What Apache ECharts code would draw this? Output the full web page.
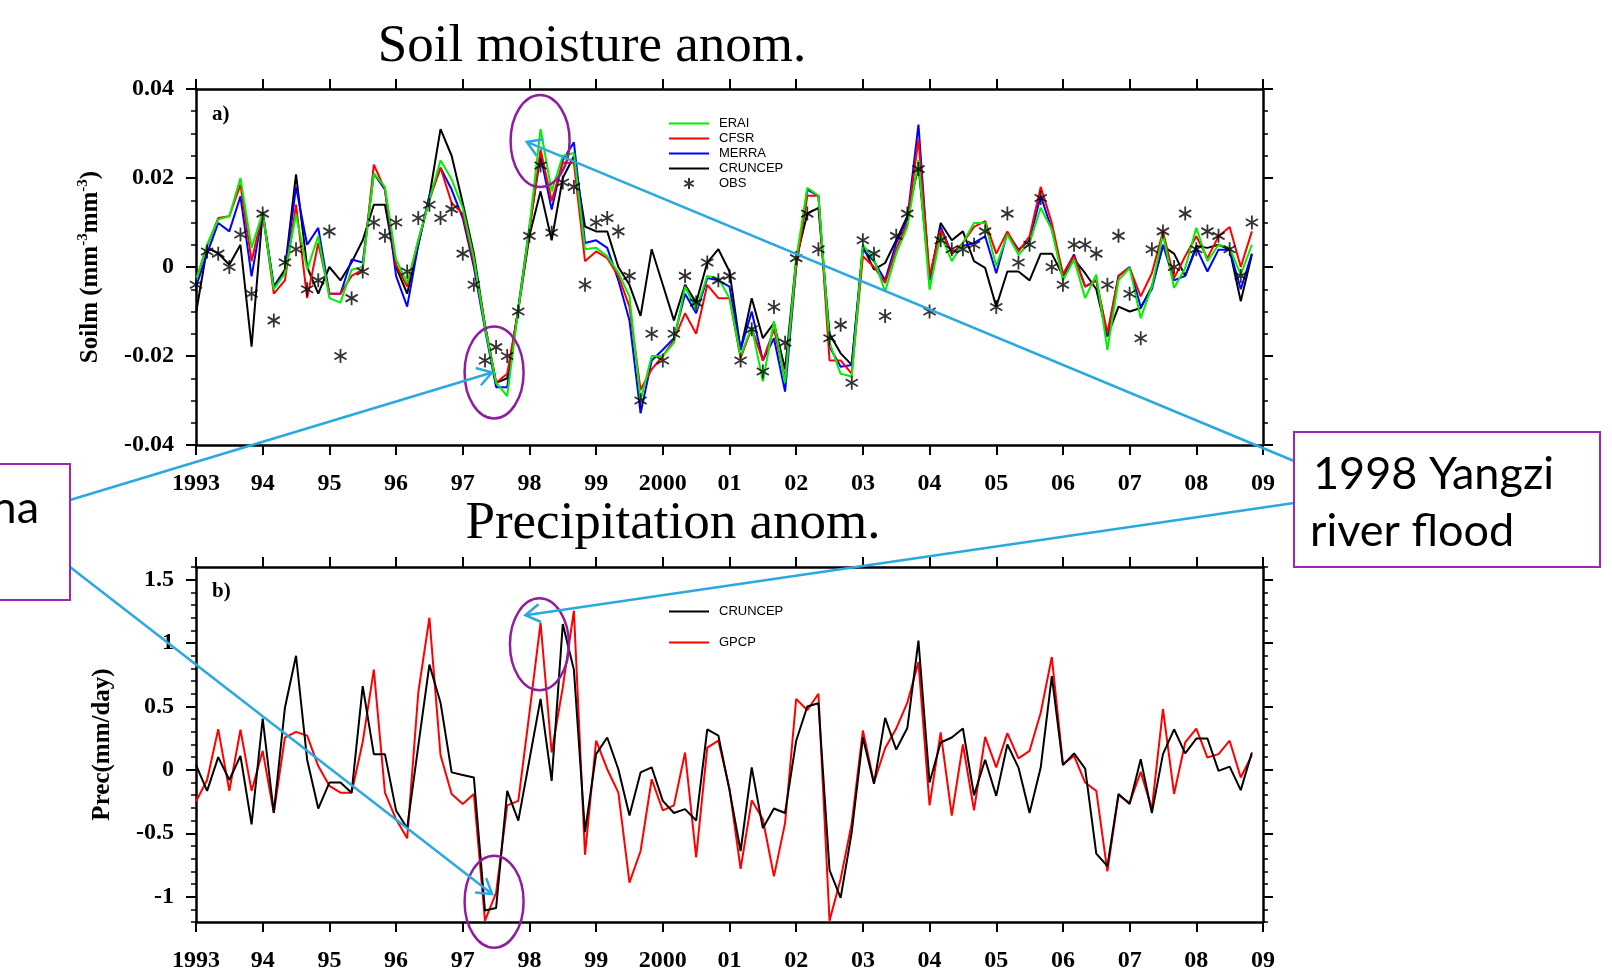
<!DOCTYPE html>
<html><head><meta charset="utf-8">
<script src="https://cdn.jsdelivr.net/npm/echarts@6/dist/echarts.min.js"></script>
<style>html,body{margin:0;padding:0;background:#fff}#c{width:1612px;height:968px}</style>
</head><body><div id="c"></div>
<script>
// ---- data (bi-monthly anomalies, 1993.0 .. 2008.83) ----
const startYear = 1993, stepsPerYear = 6;
const xTickYears = [1993,1994,1995,1996,1997,1998,1999,2000,2001,2002,2003,2004,2005,2006,2007,2008,2009];

const soilERAI = [-0.003,0.005,0.0107,0.0114,0.020,0.0043,0.0122,-0.005,-0.0014,0.0118,
-0.0006,0.0069,-0.007,-0.008,-0.0006,0.0,0.021,0.018,0.0017,-0.0036,
0.006,0.015,0.024,0.0197,0.0133,0.002,-0.0135,-0.026,-0.029,-0.0096,
0.009,0.031,0.017,0.025,0.0256,0.004,0.0043,0.0024,-0.0013,-0.0066,
-0.030,-0.020,-0.020,-0.017,-0.0044,-0.0096,-0.002,-0.0025,-0.007,-0.020,
-0.0134,-0.0257,-0.0122,-0.026,0.0017,0.0178,0.016,-0.017,-0.024,-0.0246,
0.005,0.0017,-0.0055,0.003,0.009,0.024,-0.0051,0.0073,0.0013,0.0054,
0.0099,0.0099,0.0002,0.0073,0.0028,0.0054,0.0133,0.0084,-0.003,0.0017,
-0.007,-0.0017,-0.0186,-0.003,-0.0002,-0.0115,-0.0044,0.0073,-0.0047,-0.0002,
0.0088,0.0013,0.005,0.0043,-0.0017,0.005];

const soilCFSR = [-0.003,0.0047,0.011,0.0114,0.0185,0.0013,0.0122,-0.006,-0.003,0.014,
-0.007,0.0054,-0.006,-0.006,-0.002,-0.0006,0.023,0.0174,0.0005,-0.0044,
0.006,0.015,0.0223,0.0144,0.012,0.001,-0.013,-0.026,-0.024,-0.0096,
0.008,0.0264,0.0148,0.0234,0.0234,0.0013,0.0035,0.002,-0.002,-0.0089,
-0.0276,-0.023,-0.020,-0.0164,-0.0104,-0.015,-0.004,-0.007,-0.007,-0.0205,
-0.0137,-0.021,-0.014,-0.025,0.0,0.016,0.016,-0.021,-0.021,-0.024,
0.0024,0.0,-0.0036,0.004,0.0099,0.0287,-0.002,0.0084,0.003,0.0054,
0.009,0.0103,0.003,0.008,0.0035,0.0069,0.018,0.0099,-0.0017,0.0024,
-0.0044,-0.003,-0.0149,-0.002,-0.0002,-0.0066,-0.0014,0.008,-0.0025,0.0024,
0.0069,0.002,0.0069,0.009,0.0,0.008];

const soilMERRA = [-0.0044,0.003,0.0099,0.008,0.0159,-0.0021,0.0122,-0.0044,-0.0014,0.018,
0.005,0.0088,-0.006,-0.006,0.0017,0.001,0.021,0.0174,-0.002,-0.0089,
0.005,0.016,0.0223,0.0174,0.011,0.0,-0.014,-0.027,-0.027,-0.009,
0.009,0.025,0.0129,0.024,0.028,0.0054,0.006,0.0043,-0.003,-0.012,
-0.0329,-0.021,-0.0186,-0.016,-0.006,-0.0104,-0.0025,-0.003,-0.0044,-0.0186,
-0.010,-0.021,-0.016,-0.028,0.0,0.0174,0.016,-0.0179,-0.0224,-0.022,
0.0039,0.0013,-0.003,0.0054,0.0107,0.032,-0.003,0.009,0.003,0.0047,
0.0054,0.0069,-0.0014,0.0077,0.0039,0.006,0.016,0.0084,-0.0017,0.0028,
-0.0044,-0.003,-0.0156,-0.002,0.0,-0.009,-0.005,0.005,-0.003,-0.002,
0.0043,-0.001,0.0039,0.0039,-0.005,0.003];

const soilCRUNCEP = [-0.0104,0.0043,0.0031,0.0005,0.005,-0.0179,0.0122,-0.0044,-0.0006,0.0208,
0.0,-0.006,0.0,-0.003,0.001,0.006,0.014,0.014,0.0,-0.006,
0.005,0.0159,0.031,0.025,0.0144,0.003,-0.013,-0.026,-0.025,-0.0096,
0.007,0.017,0.006,0.020,0.0249,0.0091,0.008,0.008,0.0,-0.004,
-0.011,0.004,-0.004,-0.012,-0.004,-0.008,0.001,0.004,-0.001,-0.0186,
-0.007,-0.016,-0.0126,-0.023,0.0017,0.012,0.0133,-0.015,-0.0194,-0.022,
0.0047,-0.0006,0.0009,0.006,0.0114,0.0227,-0.003,0.0099,0.006,0.008,
0.0013,-0.0002,-0.0089,-0.001,-0.001,-0.003,0.003,0.003,-0.002,0.0017,
-0.0014,-0.005,-0.0156,-0.0089,-0.010,-0.0092,-0.0044,0.0047,0.003,-0.002,
0.0047,0.0043,0.005,0.0039,-0.0077,0.0028];

const soilOBS = [-0.004,0.0035,0.003,0.0,0.0073,-0.006,0.012,-0.012,0.001,0.004,
-0.005,-0.003,0.008,-0.020,-0.007,-0.001,0.010,0.007,0.010,-0.001,
0.011,0.014,0.011,0.013,0.003,-0.004,-0.021,-0.018,-0.020,-0.010,
0.007,0.0228,0.0077,0.019,0.018,-0.004,0.010,0.011,0.008,-0.002,
-0.030,-0.015,-0.021,-0.015,-0.002,-0.008,0.001,-0.003,-0.002,-0.021,
-0.014,-0.0235,-0.009,-0.017,0.002,0.012,0.004,-0.016,-0.013,-0.026,
0.006,0.003,-0.011,0.007,0.012,0.022,-0.010,0.006,0.004,0.004,
0.005,0.008,-0.009,0.012,0.001,0.005,0.0155,0.0,-0.004,0.005,
0.005,0.003,-0.004,0.007,-0.006,-0.016,0.004,0.008,0.0,0.012,
0.004,0.008,0.007,0.004,-0.002,0.010];

const precGPCP = [-0.25,-0.08,0.32,-0.166,0.316,-0.166,0.15,-0.34,0.255,0.30,
0.27,0.03,-0.126,-0.18,-0.18,0.22,0.79,-0.18,-0.39,-0.54,
0.61,1.20,0.116,-0.19,-0.27,-0.19,-1.19,-0.97,-0.28,-0.245,
0.45,1.16,0.137,0.65,1.255,-0.67,0.23,0.005,-0.18,-0.89,
-0.64,-0.074,-0.32,-0.28,0.137,-0.69,0.176,0.23,-0.15,-0.78,
-0.24,-0.39,-0.84,-0.42,0.56,0.47,0.60,-1.19,-0.86,-0.42,
0.31,-0.10,0.17,0.326,0.53,0.85,-0.28,0.295,-0.36,0.20,
-0.32,0.26,0.02,0.29,0.09,0.15,0.45,0.89,0.045,0.11,
-0.10,-0.166,-0.80,-0.2,-0.26,-0.016,-0.31,0.48,-0.19,0.216,
0.326,0.097,0.124,0.23,-0.06,0.116];

const precCRUNCEP = [0.04,-0.166,0.10,-0.08,0.11,-0.43,0.405,-0.34,0.49,0.90,
0.08,-0.305,-0.10,-0.10,-0.18,0.66,0.124,0.124,-0.32,-0.46,
0.19,0.83,0.53,-0.02,-0.04,-0.06,-1.11,-1.09,-0.166,-0.40,
0.08,0.56,-0.087,1.15,0.79,-0.49,0.124,0.255,0.005,-0.36,
-0.02,0.02,-0.245,-0.34,-0.31,-0.40,0.32,0.27,-0.16,-0.64,
0.02,-0.46,-0.305,-0.34,0.23,0.50,0.526,-0.79,-1.01,-0.49,
0.255,-0.11,0.41,0.16,0.33,1.02,-0.10,0.216,0.255,0.326,
-0.2,0.08,-0.205,0.20,0.018,-0.34,0.018,0.74,0.037,0.13,
0.01,-0.66,-0.76,-0.19,-0.27,0.084,-0.34,0.124,0.32,0.13,
0.247,0.247,-0.008,0.026,-0.16,0.137];

const soilTicks = [-0.04,-0.02,0,0.02,0.04];
const precMajorTicks = [-1,-0.5,0,0.5,1,1.5];

// ---- build ----
const pair = arr => arr.map((v, i) => [startYear + i / stepsPerYear, v]);
const SERIF = "'Liberation Serif','Times New Roman',serif";
const SANS = "'Liberation Sans',Arial,sans-serif";
const chart = echarts.init(document.getElementById('c'), null, {renderer:'canvas', width:1612, height:968});

const xLabel = v => { const y = Math.round(v); return (y === 1993 || y === 2000) ? String(y) : String(y % 100).padStart(2, '0'); };
const axisLine = {onZero:false, lineStyle:{color:'#000', width:2.5}};
const majorTick = {length:10, lineStyle:{color:'#000', width:2}};
const lblStyle = {color:'#000', fontFamily:SERIF, fontWeight:'bold', fontSize:24};

const xBase = {type:'value', min:xTickYears[0], max:xTickYears[xTickYears.length-1], interval:1,
  axisLine, axisTick:majorTick, splitLine:{show:false}};
const xAxis = [
  Object.assign({}, xBase, {gridIndex:0, position:'bottom', axisLabel:Object.assign({formatter:xLabel, margin:27}, lblStyle)}),
  Object.assign({}, xBase, {gridIndex:0, position:'top', axisLabel:{show:false}}),
  Object.assign({}, xBase, {gridIndex:1, position:'bottom', axisLabel:Object.assign({formatter:xLabel, margin:27}, lblStyle)}),
  Object.assign({}, xBase, {gridIndex:1, position:'top', axisLabel:{show:false}})
];

const soilY = {type:'value', gridIndex:0, min:soilTicks[0], max:soilTicks[soilTicks.length-1], interval:0.02,
  axisLine, axisTick:majorTick, splitLine:{show:false},
  minorTick:{show:true, splitNumber:4, length:5, lineStyle:{color:'#000', width:1.5}}, minorSplitLine:{show:false}};
const precMinor = {type:'value', gridIndex:1, min:-1.2, max:1.6, interval:0.1,
  axisLine, axisTick:{length:5, lineStyle:{color:'#000', width:1.5}}, splitLine:{show:false}};
const precMajor = {type:'value', gridIndex:1, min:-1.2, max:1.6,
  axisLine:{show:false, onZero:false}, axisLabel:{show:false}, splitLine:{show:false},
  axisTick:{length:10, lineStyle:{color:'#000', width:2}, customValues:precMajorTicks}};
const precFmt = v => { const r = Math.round(v * 2) / 2; return Math.abs(v - r) < 1e-6 && precMajorTicks.indexOf(r) >= 0 ? String(r === 0 ? 0 : r) : ''; };

const yAxis = [
  Object.assign({}, soilY, {position:'left', axisLabel:Object.assign({margin:22}, lblStyle),
    name:'{a|Soilm (mm}{s|-3}{a|mm}{s|-3}{a|)}', nameLocation:'middle', nameRotate:90, nameGap:90,
    nameTextStyle:{rich:{
      a:{fontFamily:SERIF, fontWeight:'bold', fontSize:25, color:'#000', lineHeight:30},
      s:{fontFamily:SERIF, fontWeight:'bold', fontSize:15, color:'#000', lineHeight:15, verticalAlign:'top'}}}}),
  Object.assign({}, soilY, {position:'right', axisLabel:{show:false}}),
  Object.assign({}, precMinor, {position:'left', axisLabel:Object.assign({margin:22, formatter:precFmt}, lblStyle),
    name:'Prec(mm/day)', nameLocation:'middle', nameRotate:90, nameGap:81,
    nameTextStyle:{fontFamily:SERIF, fontWeight:'bold', fontSize:25, color:'#000'}}),
  Object.assign({}, precMajor, {position:'left'}),
  Object.assign({}, precMinor, {position:'right', axisLabel:{show:false}}),
  Object.assign({}, precMajor, {position:'right'})
];

const lineS = (name, data, color, xi, yi, z) => ({name, type:'line', data:pair(data), xAxisIndex:xi, yAxisIndex:yi,
  symbol:'none', showSymbol:false, lineStyle:{color, width:2}, itemStyle:{color}, z, animation:false});

const starPath = 'path://M0,-10 L0,10 M-8.66,-5 L8.66,5 M-8.66,5 L8.66,-5';
const lineItem = name => ({name, itemStyle:{opacity:0}});

const option = {
  backgroundColor:'#fff',
  animation:false,
  grid:[
    {left:196, top:89, width:1067, height:356, outerBoundsMode:'none'},
    {left:196, top:567, width:1067, height:355, outerBoundsMode:'none'}
  ],
  xAxis, yAxis,
  legend:[
    {orient:'vertical', left:668, top:117, padding:0, itemWidth:40, itemHeight:11, itemGap:2, selectedMode:false,
     data:[lineItem('ERAI'), lineItem('CFSR'), lineItem('MERRA'), lineItem('CRUNCEP'), 'OBS'],
     textStyle:{fontFamily:SANS, fontSize:13, color:'#000', padding:[0,0,0,5]}},
    {orient:'vertical', left:668, top:605, padding:0, itemWidth:40, itemHeight:14, itemGap:18, selectedMode:false,
     data:[lineItem('CRUNCEP'), lineItem('GPCP')],
     textStyle:{fontFamily:SANS, fontSize:13, color:'#000', padding:[0,0,0,5]}}
  ],
  series:[
    lineS('CRUNCEP', soilCRUNCEP, '#000000', 0, 0, 2),
    lineS('MERRA', soilMERRA, '#0000ff', 0, 0, 3),
    lineS('CFSR', soilCFSR, '#ff0000', 0, 0, 4),
    lineS('ERAI', soilERAI, '#00f000', 0, 0, 5),
    {name:'OBS', type:'scatter', data:pair(soilOBS), xAxisIndex:0, yAxisIndex:0, symbol:starPath, symbolSize:14,
     symbolKeepAspect:true, itemStyle:{color:'#000', borderColor:'#000', borderWidth:1.8}, z:6, animation:false},
    lineS('GPCP', precGPCP, '#ff0000', 2, 2, 3),
    lineS('CRUNCEP', precCRUNCEP, '#000000', 2, 2, 4)
  ]
};
chart.setOption(option);

// ---- annotations (anchored in data space where they point at data) ----
const toPx = (g, pt) => chart.convertToPixel(g === 0 ? {xAxisIndex:0, yAxisIndex:0} : {xAxisIndex:2, yAxisIndex:2}, pt);
const ellipses = [[0,[1998.16,0.0283]],[0,[1997.47,-0.0237]],[1,[1998.15,0.99]],[1,[1997.47,-1.04]]];
const arrows = [
  {from:[70,500], g:0, to:[1997.44,-0.0237]},
  {from:[70,567], g:1, to:[1997.44,-0.98]},
  {from:[1294,461], g:0, to:[1997.96,0.0281]},
  {from:[1294,503], g:1, to:[1997.94,1.22]}
];
const purple = '#8d1f9e', blue = '#2aa8e0';
const els = [];
// titles & panel labels
els.push({type:'text', x:592, y:47, style:{text:'Soil moisture anom.', fontFamily:SERIF, fontSize:53, fill:'#000', align:'center', verticalAlign:'middle'}, z:50});
els.push({type:'text', x:673, y:524, style:{text:'Precipitation anom.', fontFamily:SERIF, fontSize:53, fill:'#000', align:'center', verticalAlign:'middle'}, z:50});
els.push({type:'text', x:212, y:115, style:{text:'a)', fontFamily:SERIF, fontWeight:'bold', fontSize:21, fill:'#000', align:'left', verticalAlign:'middle'}, z:50});
els.push({type:'text', x:212, y:592, style:{text:'b)', fontFamily:SERIF, fontWeight:'bold', fontSize:21, fill:'#000', align:'left', verticalAlign:'middle'}, z:50});
// boxes
els.push({type:'rect', shape:{x:1294, y:432, width:306, height:135}, style:{fill:'#fff', stroke:'#9c27b0', lineWidth:2}, z:60});
els.push({type:'text', x:1313, y:474, style:{text:'1998 Yangzi', fontFamily:'Lato', fontSize:45, fill:'#000', align:'left', verticalAlign:'middle'}, z:61});
els.push({type:'text', x:1310, y:531, style:{text:'river flood', fontFamily:'Lato', fontSize:45, fill:'#000', align:'left', verticalAlign:'middle'}, z:61});
els.push({type:'rect', shape:{x:-5, y:464, width:75, height:136}, style:{fill:'#fff', stroke:'#9c27b0', lineWidth:2}, z:60});
els.push({type:'text', x:39, y:508, style:{text:'na', fontFamily:'Lato', fontSize:45, fill:'#000', align:'right', verticalAlign:'middle'}, z:61});
// ellipses
ellipses.forEach(([g, pt]) => { const p = toPx(g, pt);
  els.push({type:'ellipse', shape:{cx:p[0], cy:p[1], rx:29.5, ry:46}, style:{fill:'none', stroke:purple, lineWidth:2.5}, z:55}); });
// arrows
arrows.forEach(a => { const t = toPx(a.g, a.to); const [x1, y1] = a.from;
  const dx = t[0]-x1, dy = t[1]-y1, L = Math.hypot(dx, dy), ux = dx/L, uy = dy/L;
  const arm = 17, ang = 32 * Math.PI / 180;
  const rot = s => [t[0] - arm*(ux*Math.cos(s*ang) - uy*Math.sin(s*ang)), t[1] - arm*(ux*Math.sin(s*ang) + uy*Math.cos(s*ang))];
  els.push({type:'line', shape:{x1, y1, x2:t[0], y2:t[1]}, style:{stroke:blue, lineWidth:2.5}, z:56});
  els.push({type:'polyline', shape:{points:[rot(1), t, rot(-1)]}, style:{stroke:blue, lineWidth:2.5, fill:'none'}, z:56});
});
chart.setOption({graphic:{elements:els}});
</script></body></html>
